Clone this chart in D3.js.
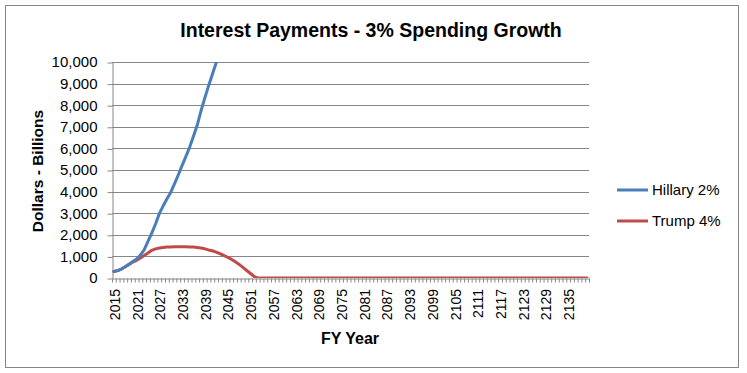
<!DOCTYPE html>
<html>
<head>
<meta charset="utf-8">
<script src="https://cdn.jsdelivr.net/npm/d3@7"></script>
<style>
  body { margin: 0; background: #fff; }
  text { font-family: "Liberation Sans", Arial, sans-serif; fill: #000; }
  .grid line { stroke: #868686; stroke-width: 1; }
  .axis path, .axis line { stroke: #868686; }
</style>
</head>
<body>
<svg width="747" height="373"></svg>
<script>
const years = d3.range(2015, 2141);
const yTicks = [0, 1000, 2000, 3000, 4000, 5000, 6000, 7000, 8000, 9000, 10000];

// Hillary 2% - runs off the top of the chart after 2042
const hillary = [300, 340, 415, 520, 640, 760, 880, 1060, 1300, 1700,
  2080, 2500, 2980, 3330, 3660, 3960, 4360, 4770, 5200, 5620,
  6050, 6550, 7070, 7730, 8330, 8890, 9420, 9950, 10500];

// Trump 4%
const trump = [300, 345, 415, 520, 630, 740, 820, 930, 1040, 1160,
  1280, 1350, 1390, 1415, 1435, 1440, 1445, 1445, 1445, 1445,
  1440, 1430, 1410, 1385, 1350, 1300, 1260, 1200, 1130, 1050,
  960, 870, 760, 640, 500, 360, 220, 80,
  0, 0, 0, 0, 0, 0, 0, 0, 0, 0, 0, 0, 0, 0, 0, 0, 0, 0, 0, 0,
  0, 0, 0, 0, 0, 0, 0, 0, 0, 0, 0, 0, 0, 0, 0, 0, 0, 0, 0, 0,
  0, 0, 0, 0, 0, 0, 0, 0, 0, 0, 0, 0, 0, 0, 0, 0, 0, 0, 0, 0,
  0, 0, 0, 0, 0, 0, 0, 0, 0, 0, 0, 0, 0, 0, 0, 0, 0, 0, 0, 0,
  0, 0, 0, 0, 0, 0, 0, 0];

const series = [
  { name: 'Hillary 2%', color: '#4a7ebb', values: hillary },
  { name: 'Trump 4%', color: '#be4b48', values: trump }
];

const plot = { left: 112, top: 62, right: 589, bottom: 278 };
const svg = d3.select('svg');

// outer frame
svg.append('rect')
  .attr('x', 5.5).attr('y', 5.5)
  .attr('width', 733).attr('height', 362)
  .attr('fill', '#fff')
  .attr('stroke', '#868686');

const x = d3.scaleBand().domain(years).range([plot.left, plot.right]);
const xIdx = d3.scaleLinear().domain([0, years.length]).range([plot.left, plot.right]);
const y = d3.scaleLinear().domain([0, 10000]).range([plot.bottom, plot.top]);

svg.append('text')
  .attr('x', 371).attr('y', 37)
  .attr('text-anchor', 'middle')
  .style('font-weight', 'bold')
  .style('font-size', '19.5px')
  .text('Interest Payments - 3% Spending Growth');

// gridlines
svg.append('g').attr('class', 'grid')
  .selectAll('line').data(yTicks.slice(1))
  .enter().append('line')
  .attr('x1', plot.left).attr('x2', plot.right)
  .attr('y1', d => Math.round(y(d)) + 0.5)
  .attr('y2', d => Math.round(y(d)) + 0.5);

// y axis
const yAxis = svg.append('g').attr('class', 'axis')
  .attr('transform', `translate(${plot.left + 0.5},0)`)
  .call(d3.axisLeft(y).tickValues(yTicks).tickSize(5).tickPadding(10)
    .tickFormat(d3.format(',')).tickSizeOuter(0));
yAxis.selectAll('text').style('font-size', '15px').attr('font-family', null);
yAxis.selectAll('.tick line').attr('transform', 'translate(0,0.5)');

// x axis minor ticks at category boundaries
svg.append('g').attr('class', 'axis')
  .attr('transform', `translate(0,${plot.bottom + 0.5})`)
  .call(d3.axisBottom(xIdx).tickValues(d3.range(0, years.length + 1))
    .tickSize(4).tickFormat('').tickSizeOuter(0));

// x labels every 6th year
const labelYears = years.filter((d, i) => i % 6 === 0 && d < 2140);
svg.append('g')
  .selectAll('text').data(labelYears)
  .enter().append('text')
  .attr('transform', d => `translate(${x(d) + x.bandwidth() / 2 + 1},${plot.bottom + 11}) rotate(-90)`)
  .attr('text-anchor', 'end')
  .attr('dy', '0.35em')
  .style('font-size', '14px')
  .text(d => d);

svg.append('text')
  .attr('x', 350).attr('y', 344)
  .attr('text-anchor', 'middle')
  .style('font-weight', 'bold')
  .style('font-size', '16px')
  .text('FY Year');

svg.append('text')
  .attr('transform', 'translate(43,171) rotate(-90)')
  .attr('text-anchor', 'middle')
  .style('font-weight', 'bold')
  .style('font-size', '15.5px')
  .text('Dollars - Billions');

// clip lines to plot area
svg.append('clipPath').attr('id', 'plot-clip')
  .append('rect')
  .attr('x', plot.left).attr('y', plot.top)
  .attr('width', plot.right - plot.left).attr('height', plot.bottom - plot.top);

const line = d3.line()
  .x((d, i) => x(years[i]) + x.bandwidth() / 2)
  .y(d => y(d));

svg.append('g').attr('clip-path', 'url(#plot-clip)')
  .selectAll('path').data(series.slice().reverse())
  .enter().append('path')
  .attr('fill', 'none')
  .attr('stroke', d => d.color)
  .attr('stroke-width', 3)
  .attr('stroke-linejoin', 'round')
  .attr('stroke-linecap', 'round')
  .attr('d', d => line(d.values));

// legend
const legend = svg.append('g')
  .selectAll('g').data(series)
  .enter().append('g')
  .attr('transform', (d, i) => `translate(617,${190 + i * 31})`);

legend.append('line')
  .attr('x1', 0).attr('x2', 31)
  .attr('stroke', d => d.color)
  .attr('stroke-width', 3);

legend.append('text')
  .attr('x', 35).attr('y', 5)
  .style('font-size', '15px')
  .text(d => d.name);
</script>
</body>
</html>
